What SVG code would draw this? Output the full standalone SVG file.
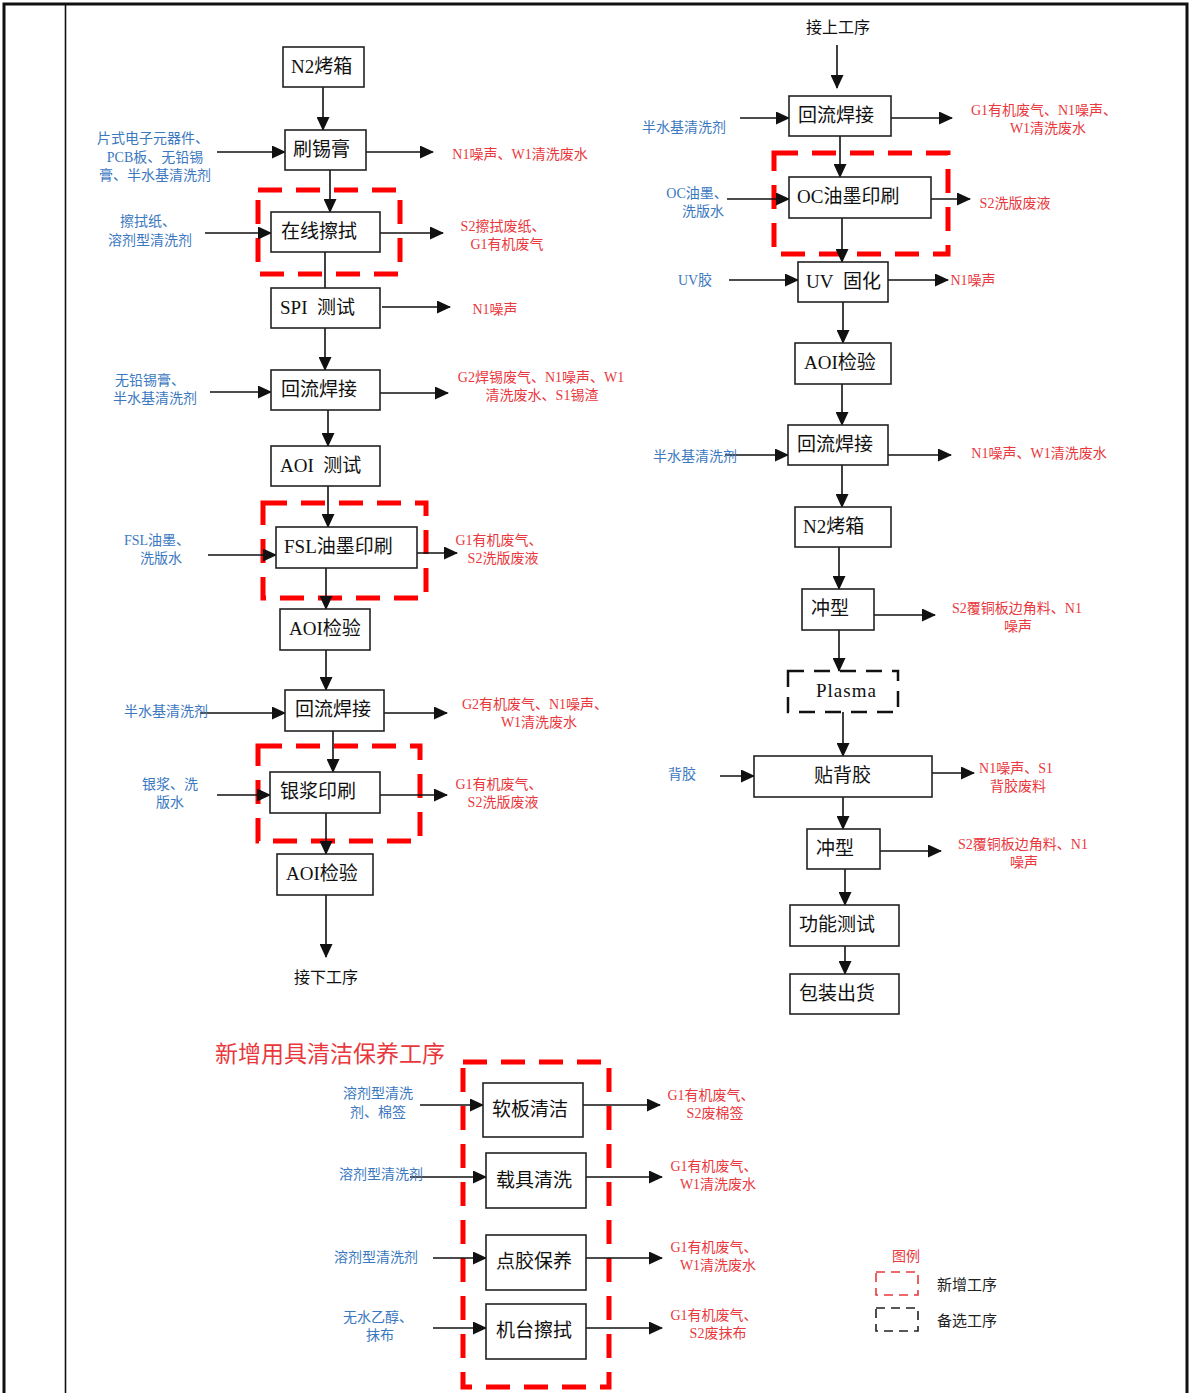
<svg xmlns="http://www.w3.org/2000/svg" width="1192" height="1393" viewBox="0 0 1192 1393">
<style>
.bx{fill:#fff;stroke:#222;stroke-width:1.6}
.bd{fill:none;stroke:#111;stroke-width:2.5;stroke-dasharray:16 10}
.rd{fill:none;stroke:#ff0000;stroke-width:5;stroke-dasharray:24 14}
.t{font-family:"Liberation Serif","Noto Sans CJK SC",serif;font-size:19px;fill:#111}
.b{font-family:"Liberation Serif","Noto Sans CJK SC",sans-serif;font-size:14px;fill:#3a78c0;text-anchor:middle}
.r{font-family:"Liberation Serif","Noto Sans CJK SC",sans-serif;font-size:14px;fill:#e8383d;text-anchor:middle}
.k{font-family:"Liberation Serif","Noto Sans CJK SC",sans-serif;font-size:16px;fill:#111;text-anchor:middle}
.ln{stroke:#111;stroke-width:1.6;fill:none;marker-end:url(#ah)}
.pl{stroke:#111;stroke-width:1.6;fill:none}
</style>
<defs>
<marker id="ah" markerUnits="userSpaceOnUse" markerWidth="15" markerHeight="13" refX="13" refY="6.5" orient="auto">
<path d="M0,0 L14,6.5 L0,13 Z" fill="#111"/>
</marker>
</defs>
<rect width="1192" height="1393" fill="#fff"/>
<g id="frame">
<path d="M4,1393 V4 H1187 V1393" fill="none" stroke="#111" stroke-width="3"/>
<line x1="65.5" y1="4" x2="65.5" y2="1393" stroke="#111" stroke-width="1.6"/>
</g>

<g id="regions">
<rect class="rd" x="258" y="190" width="142" height="84"/>
<rect class="rd" x="263" y="503" width="163" height="95"/>
<rect class="rd" x="258" y="746" width="162" height="95"/>
<rect class="rd" x="774" y="153" width="174" height="101"/>
<rect class="rd" x="463" y="1062" width="146" height="325"/>
</g>

<g id="connectors">
<line class="ln" x1="323" y1="87" x2="323" y2="130"/>
<line class="ln" x1="330" y1="170" x2="330" y2="212"/>
<line class="pl" x1="325" y1="252" x2="325" y2="288"/>
<line class="ln" x1="325" y1="328" x2="325" y2="370"/>
<line class="ln" x1="328" y1="410" x2="328" y2="446"/>
<line class="ln" x1="328" y1="486" x2="328" y2="527"/>
<line class="ln" x1="326" y1="568" x2="326" y2="609"/>
<line class="ln" x1="326" y1="650" x2="326" y2="690"/>
<line class="ln" x1="333" y1="731" x2="333" y2="772"/>
<line class="ln" x1="326" y1="813" x2="326" y2="854"/>
<line class="ln" x1="326" y1="895" x2="326" y2="957"/>

<line class="ln" x1="217" y1="152" x2="285" y2="152"/>
<line class="ln" x1="366" y1="152" x2="433" y2="152"/>
<line class="ln" x1="205" y1="233" x2="271" y2="233"/>
<line class="ln" x1="380" y1="233" x2="443" y2="233"/>
<line class="ln" x1="382" y1="307" x2="450" y2="307"/>
<line class="ln" x1="210" y1="392" x2="271" y2="392"/>
<line class="ln" x1="380" y1="393" x2="448" y2="393"/>
<line class="ln" x1="208" y1="555" x2="276" y2="555"/>
<line class="ln" x1="417" y1="553" x2="457" y2="553"/>
<line class="ln" x1="200" y1="713" x2="285" y2="713"/>
<line class="ln" x1="384" y1="713" x2="447" y2="713"/>
<line class="ln" x1="217" y1="795" x2="270" y2="795"/>
<line class="ln" x1="380" y1="795" x2="447" y2="795"/>

<line class="ln" x1="837" y1="45" x2="837" y2="88"/>
<line class="ln" x1="840" y1="136" x2="840" y2="177"/>
<line class="ln" x1="842" y1="218" x2="842" y2="262"/>
<line class="ln" x1="843" y1="302" x2="843" y2="343"/>
<line class="ln" x1="842" y1="384" x2="842" y2="425"/>
<line class="ln" x1="842" y1="465" x2="842" y2="507"/>
<line class="ln" x1="839" y1="547" x2="839" y2="589"/>
<line class="ln" x1="839" y1="630" x2="839" y2="671"/>
<line class="ln" x1="843" y1="712" x2="843" y2="756"/>
<line class="ln" x1="843" y1="797" x2="843" y2="829"/>
<line class="ln" x1="845" y1="869" x2="845" y2="905"/>
<line class="ln" x1="845" y1="946" x2="845" y2="974"/>

<line class="ln" x1="740" y1="118" x2="789" y2="118"/>
<line class="ln" x1="891" y1="118" x2="952" y2="118"/>
<line class="ln" x1="727" y1="199" x2="789" y2="199"/>
<line class="ln" x1="931" y1="199" x2="970" y2="199"/>
<line class="ln" x1="729" y1="280" x2="798" y2="280"/>
<line class="ln" x1="888" y1="280" x2="948" y2="280"/>
<line class="ln" x1="725" y1="455" x2="788" y2="455"/>
<line class="ln" x1="888" y1="455" x2="951" y2="455"/>
<line class="ln" x1="874" y1="615" x2="935" y2="615"/>
<line class="ln" x1="720" y1="776" x2="754" y2="776"/>
<line class="ln" x1="932" y1="773" x2="974" y2="773"/>
<line class="ln" x1="880" y1="851" x2="941" y2="851"/>

<line class="ln" x1="420" y1="1105" x2="483" y2="1105"/>
<line class="ln" x1="583" y1="1105" x2="660" y2="1105"/>
<line class="ln" x1="410" y1="1177" x2="486" y2="1177"/>
<line class="ln" x1="586" y1="1177" x2="662" y2="1177"/>
<line class="ln" x1="433" y1="1258" x2="486" y2="1258"/>
<line class="ln" x1="586" y1="1258" x2="662" y2="1258"/>
<line class="ln" x1="433" y1="1328" x2="486" y2="1328"/>
<line class="ln" x1="586" y1="1328" x2="662" y2="1328"/>
</g>

<g id="n_l1"><rect class="bx" x="283" y="47" width="81" height="40"/><text class="t" x="291" y="73">N2烤箱</text></g>
<g id="n_l2"><rect class="bx" x="285" y="130" width="81" height="40"/><text class="t" x="293" y="156">刷锡膏</text></g>
<g id="n_l3"><rect class="bx" x="271" y="212" width="109" height="40"/><text class="t" x="281" y="238">在线擦拭</text></g>
<g id="n_l4"><rect class="bx" x="271" y="288" width="109" height="40"/><text class="t" x="280" y="314">SPI&#160;&#160;测试</text></g>
<g id="n_l5"><rect class="bx" x="271" y="370" width="109" height="40"/><text class="t" x="281" y="396">回流焊接</text></g>
<g id="n_l6"><rect class="bx" x="271" y="446" width="109" height="40"/><text class="t" x="280" y="472">AOI&#160;&#160;测试</text></g>
<g id="n_l7"><rect class="bx" x="276" y="527" width="141" height="41"/><text class="t" x="284" y="553">FSL油墨印刷</text></g>
<g id="n_l8"><rect class="bx" x="280" y="609" width="90" height="41"/><text class="t" x="289" y="635">AOI检验</text></g>
<g id="n_l9"><rect class="bx" x="285" y="690" width="99" height="41"/><text class="t" x="295" y="716">回流焊接</text></g>
<g id="n_l10"><rect class="bx" x="270" y="772" width="110" height="41"/><text class="t" x="280" y="798">银浆印刷</text></g>
<g id="n_l11"><rect class="bx" x="277" y="854" width="96" height="41"/><text class="t" x="286" y="880">AOI检验</text></g>
<g id="n_l12"><text class="k" x="326" y="983">接下工序</text></g>

<g id="n_r0"><text class="k" x="838" y="33">接上工序</text></g>
<g id="n_r1"><rect class="bx" x="789" y="96" width="102" height="40"/><text class="t" x="798" y="122">回流焊接</text></g>
<g id="n_r2"><rect class="bx" x="789" y="177" width="142" height="41"/><text class="t" x="797" y="203">OC油墨印刷</text></g>
<g id="n_r3"><rect class="bx" x="798" y="262" width="90" height="40"/><text class="t" x="806" y="288">UV&#160;&#160;固化</text></g>
<g id="n_r4"><rect class="bx" x="795" y="343" width="96" height="41"/><text class="t" x="804" y="369">AOI检验</text></g>
<g id="n_r5"><rect class="bx" x="788" y="425" width="100" height="40"/><text class="t" x="797" y="451">回流焊接</text></g>
<g id="n_r6"><rect class="bx" x="795" y="507" width="96" height="40"/><text class="t" x="803" y="533">N2烤箱</text></g>
<g id="n_r7"><rect class="bx" x="802" y="589" width="72" height="41"/><text class="t" x="811" y="615">冲型</text></g>
<g id="n_r8"><rect class="bd" x="788" y="671" width="110" height="41"/><text class="t" x="816" y="697" style="letter-spacing:1px">Plasma</text></g>
<g id="n_r9"><rect class="bx" x="754" y="756" width="178" height="41"/><text class="t" x="814" y="782">贴背胶</text></g>
<g id="n_r10"><rect class="bx" x="807" y="829" width="73" height="40"/><text class="t" x="816" y="855">冲型</text></g>
<g id="n_r11"><rect class="bx" x="790" y="905" width="109" height="41"/><text class="t" x="799" y="931">功能测试</text></g>
<g id="n_r12"><rect class="bx" x="790" y="974" width="109" height="40"/><text class="t" x="799" y="1000">包装出货</text></g>

<g id="n_b1"><rect class="bx" x="483" y="1083" width="100" height="54"/><text class="t" x="492" y="1116">软板清洁</text></g>
<g id="n_b2"><rect class="bx" x="486" y="1153" width="100" height="55"/><text class="t" x="496" y="1187">载具清洗</text></g>
<g id="n_b3"><rect class="bx" x="486" y="1235" width="100" height="55"/><text class="t" x="496" y="1268">点胶保养</text></g>
<g id="n_b4"><rect class="bx" x="486" y="1304" width="100" height="55"/><text class="t" x="496" y="1337">机台擦拭</text></g>

<g id="labels_in">
<text class="b" x="153" y="143">片式电子元器件、</text>
<text class="b" x="155" y="162">PCB板、无铅锡</text>
<text class="b" x="155" y="180">膏、半水基清洗剂</text>
<text class="b" x="148" y="226">擦拭纸、</text>
<text class="b" x="150" y="245">溶剂型清洗剂</text>
<text class="b" x="150" y="385">无铅锡膏、</text>
<text class="b" x="155" y="403">半水基清洗剂</text>
<text class="b" x="157" y="545">FSL油墨、</text>
<text class="b" x="161" y="563">洗版水</text>
<text class="b" x="166" y="716">半水基清洗剂</text>
<text class="b" x="170" y="789">银浆、洗</text>
<text class="b" x="170" y="807">版水</text>
<text class="b" x="684" y="132">半水基清洗剂</text>
<text class="b" x="697" y="198">OC油墨、</text>
<text class="b" x="703" y="216">洗版水</text>
<text class="b" x="695" y="285">UV胶</text>
<text class="b" x="695" y="461">半水基清洗剂</text>
<text class="b" x="682" y="779">背胶</text>
<text class="b" x="378" y="1098">溶剂型清洗</text>
<text class="b" x="378" y="1117">剂、棉签</text>
<text class="b" x="381" y="1179">溶剂型清洗剂</text>
<text class="b" x="376" y="1262">溶剂型清洗剂</text>
<text class="b" x="378" y="1322">无水乙醇、</text>
<text class="b" x="380" y="1340">抹布</text>
</g>

<g id="labels_out">
<text class="r" x="520" y="159">N1噪声、W1清洗废水</text>
<text class="r" x="503" y="231">S2擦拭废纸、</text>
<text class="r" x="507" y="249">G1有机废气</text>
<text class="r" x="495" y="314">N1噪声</text>
<text class="r" x="541" y="382">G2焊锡废气、N1噪声、W1</text>
<text class="r" x="542" y="400">清洗废水、S1锡渣</text>
<text class="r" x="499" y="545">G1有机废气、</text>
<text class="r" x="503" y="563">S2洗版废液</text>
<text class="r" x="535" y="709">G2有机废气、N1噪声、</text>
<text class="r" x="539" y="727">W1清洗废水</text>
<text class="r" x="499" y="789">G1有机废气、</text>
<text class="r" x="503" y="807">S2洗版废液</text>
<text class="r" x="1044" y="115">G1有机废气、N1噪声、</text>
<text class="r" x="1048" y="133">W1清洗废水</text>
<text class="r" x="1015" y="208">S2洗版废液</text>
<text class="r" x="973" y="285">N1噪声</text>
<text class="r" x="1039" y="458">N1噪声、W1清洗废水</text>
<text class="r" x="1017" y="613">S2覆铜板边角料、N1</text>
<text class="r" x="1018" y="631">噪声</text>
<text class="r" x="1016" y="773">N1噪声、S1</text>
<text class="r" x="1018" y="791">背胶废料</text>
<text class="r" x="1023" y="849">S2覆铜板边角料、N1</text>
<text class="r" x="1024" y="867">噪声</text>
<text class="r" x="711" y="1100">G1有机废气、</text>
<text class="r" x="715" y="1118">S2废棉签</text>
<text class="r" x="714" y="1171">G1有机废气、</text>
<text class="r" x="718" y="1189">W1清洗废水</text>
<text class="r" x="714" y="1252">G1有机废气、</text>
<text class="r" x="718" y="1270">W1清洗废水</text>
<text class="r" x="714" y="1320">G1有机废气、</text>
<text class="r" x="718" y="1338">S2废抹布</text>
</g>

<g id="title"><text x="215" y="1062" style="font-family:'Liberation Serif','Noto Sans CJK SC',serif;font-size:23px;fill:#e8383d">新增用具清洁保养工序</text></g>

<g id="legend">
<text class="r" x="906" y="1261">图例</text>
<rect x="876" y="1272" width="42" height="23" fill="none" stroke="#e8383d" stroke-width="1.6" stroke-dasharray="9 6"/>
<text x="937" y="1290" style="font-family:'Liberation Serif','Noto Sans CJK SC',sans-serif;font-size:15px;fill:#222">新增工序</text>
<rect x="876" y="1308" width="42" height="23" fill="none" stroke="#222" stroke-width="1.6" stroke-dasharray="9 6"/>
<text x="937" y="1326" style="font-family:'Liberation Serif','Noto Sans CJK SC',sans-serif;font-size:15px;fill:#222">备选工序</text>
</g>
</svg>
